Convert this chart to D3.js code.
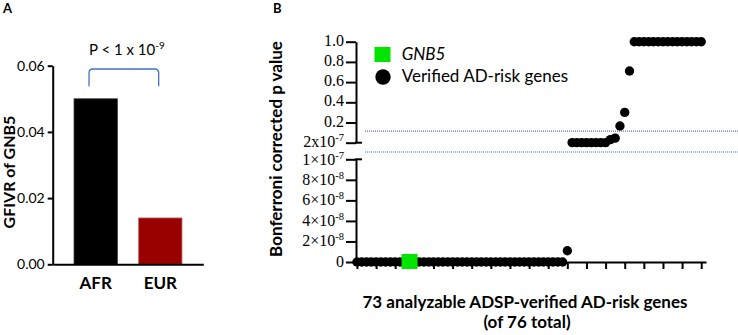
<!DOCTYPE html>
<html>
<head>
<meta charset="utf-8">
<script src="https://cdn.jsdelivr.net/npm/d3@7"></script>
<style>
	body { margin: 0; background: #ffffff; }
	svg { display: block; }
</style>
</head>
<body>
<div id="chart"></div>
<script>
// ---- panel A data
var groupsA = ["AFR", "EUR"];
var gfivrA = [0.05, 0.014];
var barColorsA = ["#000000", "#990000"];
var ticksA = [0, 0.02, 0.04, 0.06];

// ---- panel B data (73 genes, sorted by corrected p value)
var pvalsB = [
	0, 0, 0, 0, 0, 0, 0, 0, 0, 0, 0, 0, 0, 0, 0, 0, 0, 0, 0, 0, 0, 0,
	0, 0, 0, 0, 0, 0, 0, 0, 0, 0, 0, 0, 0, 0, 0, 0, 0, 0, 0, 0, 0, 0,
	1.1e-8,
	0.001, 0.001, 0.001, 0.001, 0.001, 0.001, 0.001, 0.001,
	0.03, 0.045,
	0.165, 0.30, 0.71,
	1, 1, 1, 1, 1, 1, 1, 1, 1, 1, 1, 1, 1, 1, 1
];
var gnb5Index = 11;
var gnb5Value = 0;
var upperTicksB = [2e-7, 0.2, 0.4, 0.6, 0.8, 1.0];
var upperTickLabelsB = [["2x10", "-7"], ["0.2", ""], ["0.4", ""], ["0.6", ""], ["0.8", ""], ["1.0", ""]];
var lowerTicksB = [0, 2e-8, 4e-8, 6e-8, 8e-8, 1e-7];
var lowerTickLabelsB = [["0", ""], ["2×10", "-8"], ["4×10", "-8"], ["6×10", "-8"], ["8×10", "-8"], ["1×10", "-7"]];
var xTicksB = [0, 4, 8, 12, 16, 20, 24, 28, 32, 36, 40, 44, 48, 52, 56, 60, 64, 68, 72];
var legendB = ["GNB5", "Verified AD-risk genes"];
var cutoffB = 0.115;

var sans = "Lato, 'Open Sans', sans-serif";
var serif = "'Liberation Serif', 'DejaVu Serif', serif";

var svg = d3.select("#chart").append("svg")
	.attr("width", 738)
	.attr("height", 335);

// ================= panel A =================
svg.append("text").attr("x", 3).attr("y", 13).text("A")
	.attr("font-family", sans).attr("font-weight", "700").attr("font-size", "13px");

var yA = d3.scaleLinear().domain([0, 0.06]).range([264.3, 65.7]);
var xA = d3.scaleBand().domain(groupsA).range([52.7, 203.3])
	.paddingInner(0.33).paddingOuter(0.33);

var gA = svg.append("g");
gA.selectAll(".barA")
	.data(groupsA)
	.enter()
	.append("rect")
		.attr("class", "barA")
		.attr("x", d => xA(d))
		.attr("y", (d, i) => yA(gfivrA[i]))
		.attr("width", xA.bandwidth())
		.attr("height", (d, i) => yA(0) - yA(gfivrA[i]))
		.attr("fill", (d, i) => barColorsA[i])
		.attr("stroke", (d, i) => i == 0 ? "#333" : "#c06060")
		.attr("stroke-width", 0.8);

var yAxisA = gA.append("g")
	.attr("transform", "translate(52.7,0)")
	.call(d3.axisLeft(yA).tickValues(ticksA).tickSize(5).tickSizeOuter(0).tickPadding(3).tickFormat(d3.format(".2f")));
yAxisA.selectAll("path, line").attr("stroke", "#000").attr("stroke-width", 2);
yAxisA.selectAll("text").attr("font-family", sans).attr("font-size", "14px").attr("fill", "#000");

var xAxisA = gA.append("g")
	.attr("transform", "translate(0,264.3)")
	.call(d3.axisBottom(xA).tickSize(0).tickSizeOuter(0).tickPadding(13));
xAxisA.select("path").attr("stroke", "#000").attr("stroke-width", 2);
xAxisA.selectAll("text").attr("font-family", sans).attr("font-size", "17px")
	.attr("font-weight", "700").attr("fill", "#000");

svg.append("text")
	.attr("transform", "translate(15,172) rotate(-90)")
	.attr("text-anchor", "middle")
	.attr("font-family", sans).attr("font-weight", "700").attr("font-size", "16px")
	.text("GFIVR of GNB5");

// significance bracket
var bL = xA("AFR") + 15, bR = xA("EUR") + 20;
var bTop = yA(0.059), bBot = yA(0.0538);
svg.append("path")
	.attr("d", "M" + bL + "," + bBot + " L" + bL + "," + (bTop + 4) + " Q" + bL + "," + bTop + " " + (bL + 4) + "," + bTop +
		" L" + (bR - 4) + "," + bTop + " Q" + bR + "," + bTop + " " + bR + "," + (bTop + 4) + " L" + bR + "," + bBot)
	.attr("fill", "none").attr("stroke", "#4472C4").attr("stroke-width", 1.3);
var pText = svg.append("text")
	.attr("x", (bL + bR) / 2 + 3).attr("y", 55)
	.attr("text-anchor", "middle")
	.attr("font-family", sans).attr("font-size", "15px");
pText.append("tspan").text("P < 1 x 10");
pText.append("tspan").attr("dy", -6).attr("font-size", "10px").text("-9");

// ================= panel B =================
svg.append("text").attr("x", 273).attr("y", 13).text("B")
	.attr("font-family", sans).attr("font-weight", "700").attr("font-size", "13px");

var xB = d3.scaleLinear().domain([-0.2, 73]).range([356, 706]);
var yUp = d3.scaleLinear().domain([2e-7, 1]).range([142.7, 41.7]);
var yLo = d3.scaleLinear().domain([0, 1e-7]).range([262, 159.3]);
var yB = v => v <= 1e-7 ? yLo(v) : yUp(v);

// dotted reference lines
svg.append("line")
	.attr("x1", 365).attr("x2", 738)
	.attr("y1", yUp(cutoffB)).attr("y2", yUp(cutoffB))
	.attr("stroke", "#2f4f8f").attr("stroke-width", 1).attr("stroke-dasharray", "1,1");
svg.append("line")
	.attr("x1", 365).attr("x2", 738)
	.attr("y1", (yUp(2e-7) + yLo(1e-7)) / 2 + 1).attr("y2", (yUp(2e-7) + yLo(1e-7)) / 2 + 1)
	.attr("stroke", "#3f6fc8").attr("stroke-width", 1).attr("stroke-dasharray", "1,1");

function styleAxis(ax) {
	ax.selectAll("path, line").attr("stroke", "#000").attr("stroke-width", 2);
}

var upAxis = svg.append("g")
	.attr("transform", "translate(356,0)")
	.call(d3.axisLeft(yUp).tickValues(upperTicksB).tickSize(10).tickSizeOuter(0).tickFormat(""));
styleAxis(upAxis);
var loAxis = svg.append("g")
	.attr("transform", "translate(356,0)")
	.call(d3.axisLeft(yLo).tickValues(lowerTicksB).tickSize(10).tickSizeOuter(0).tickFormat(""));
styleAxis(loAxis);

// break caps
[yUp(2e-7), yLo(1e-7)].forEach(function (yy) {
	svg.append("line").attr("x1", 355).attr("x2", 362).attr("y1", yy).attr("y2", yy)
		.attr("stroke", "#000").attr("stroke-width", 2);
});

function tickLabel(yy, lab) {
	var t = svg.append("text")
		.attr("x", 344).attr("y", yy + 5)
		.attr("text-anchor", "end")
		.attr("font-family", serif).attr("font-size", "16px").attr("fill", "#000");
	t.append("tspan").text(lab[0]);
	if (lab[1] !== "") {
		t.append("tspan").attr("dy", -6).attr("font-size", "10.5px").text(lab[1]);
	}
}
for (var i = 0; i < upperTicksB.length; i++) {
	tickLabel(yUp(upperTicksB[i]) - 1, upperTickLabelsB[i]);
}
for (var i = 0; i < lowerTicksB.length; i++) {
	tickLabel(yLo(lowerTicksB[i]) + (i == lowerTicksB.length - 1 ? 1 : 0), lowerTickLabelsB[i]);
}

var xAxisB = svg.append("g")
	.attr("transform", "translate(0," + yLo(0) + ")")
	.call(d3.axisBottom(xB).tickValues(xTicksB).tickSize(7).tickSizeOuter(0).tickFormat(""));
styleAxis(xAxisB);

// points
svg.selectAll(".gene")
	.data(pvalsB)
	.enter()
	.append("circle")
		.attr("class", "gene")
		.attr("cx", (d, i) => xB(i))
		.attr("cy", d => yB(d))
		.attr("r", 4.7)
		.attr("fill", "#000");

svg.append("rect")
	.attr("x", xB(gnb5Index) - 8).attr("y", yB(gnb5Value) - 8)
	.attr("width", 16).attr("height", 15)
	.attr("fill", "#00e400");

// legend
svg.append("rect").attr("x", 374.5).attr("y", 47).attr("width", 16).attr("height", 15).attr("fill", "#00e400");
svg.append("circle").attr("cx", 383).attr("cy", 77).attr("r", 7.7).attr("fill", "#000");
svg.append("text").attr("x", 401.7).attr("y", 60)
	.attr("font-family", sans).attr("font-size", "17px").attr("font-style", "italic")
	.text(legendB[0]);
svg.append("text").attr("x", 401.7).attr("y", 82)
	.attr("font-family", sans).attr("font-size", "17px")
	.text(legendB[1]);

// axis titles
svg.append("text")
	.attr("transform", "translate(282,149) rotate(-90)")
	.attr("text-anchor", "middle")
	.attr("font-family", sans).attr("font-weight", "700").attr("font-size", "17px")
	.text("Bonferroni corrected p value");
svg.append("text")
	.attr("x", 525).attr("y", 308)
	.attr("text-anchor", "middle")
	.attr("font-family", sans).attr("font-weight", "700").attr("font-size", "17px")
	.text("73 analyzable ADSP-verified AD-risk genes");
svg.append("text")
	.attr("x", 527).attr("y", 328)
	.attr("text-anchor", "middle")
	.attr("font-family", sans).attr("font-weight", "700").attr("font-size", "17px")
	.text("(of 76 total)");
</script>
</body>
</html>
